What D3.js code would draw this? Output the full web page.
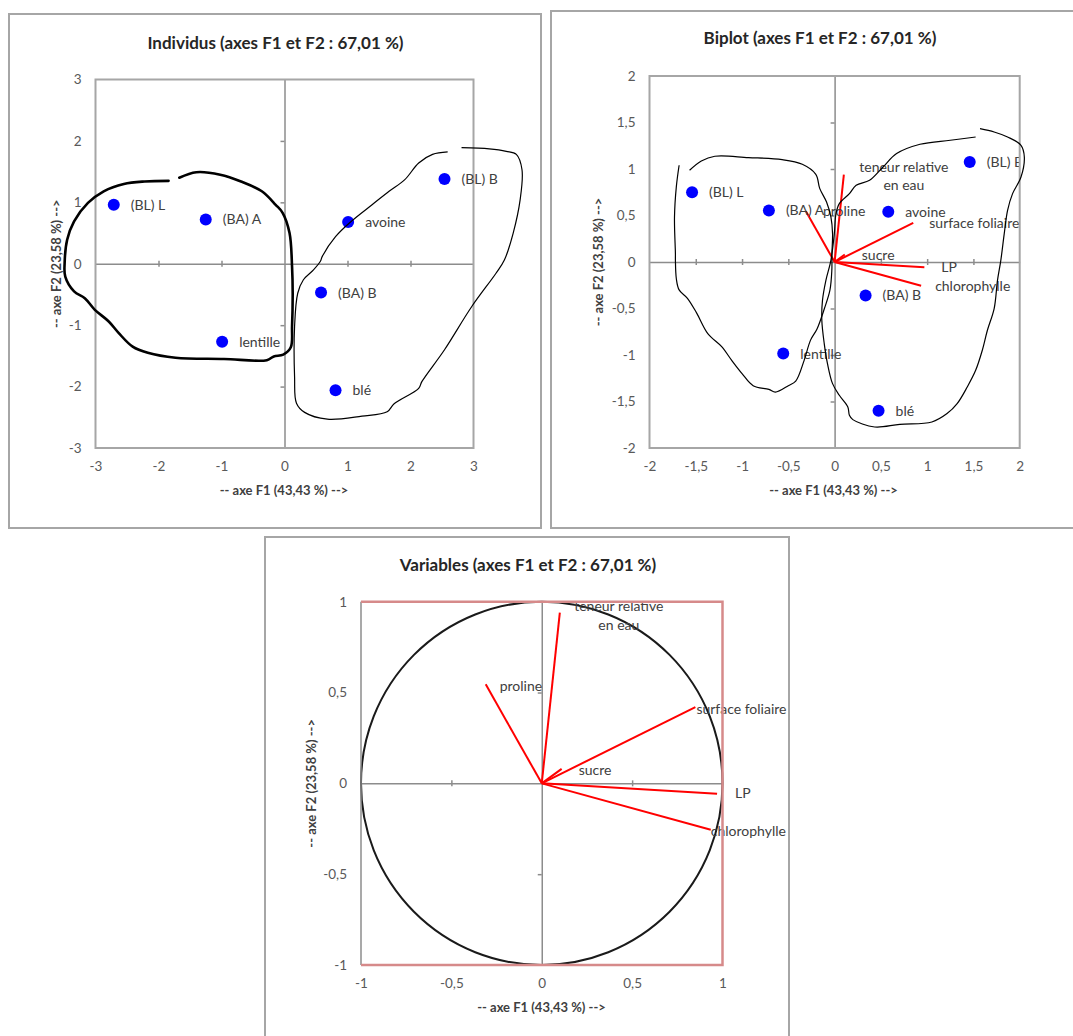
<!DOCTYPE html>
<html>
<head>
<meta charset="utf-8">
<script src="https://cdn.jsdelivr.net/npm/d3@7"></script>
<style>
  html, body { margin: 0; padding: 0; background: #fff; }
  svg { display: block; font-family: Lato, "Open Sans", sans-serif; }
</style>
</head>
<body>
<svg id="chart" width="1073" height="1036"></svg>
<script>
// ---- Observations (factor scores) ----
const individuals = ["(BL) L", "(BA) A", "avoine", "(BL) B", "(BA) B", "lentille", "blé"];
const indF1 = [-2.71, -1.25, 1.01, 2.54, 0.58, -0.99, 0.81];
const indF2 = [0.96, 0.72, 0.68, 1.38, -0.47, -1.27, -2.06];

// Observations as plotted on the biplot
const biF1 = [-1.54, -0.71, 0.58, 1.46, 0.335, -0.555, 0.475];
const biF2 = [0.75, 0.555, 0.54, 1.075, -0.36, -0.985, -1.60];

// ---- Variables (correlations with F1 / F2) ----
const variableLines = [["teneur relative", "en eau"], ["proline"], ["surface foliaire"], ["sucre"], ["LP"], ["chlorophylle"]];
const varF1 = [0.10, -0.31, 0.85, 0.11, 0.97, 0.935];
const varF2 = [0.94, 0.545, 0.42, 0.08, -0.057, -0.255];

// ---- Tick values ----
const ticksInd = [-3, -2, -1, 0, 1, 2, 3];
const ticksBi = [-2, -1.5, -1, -0.5, 0, 0.5, 1, 1.5, 2];
const ticksVar = [-1, -0.5, 0, 0.5, 1];

// ---- Titles ----
const titles = ["Individus (axes F1 et F2 : 67,01 %)", "Biplot (axes F1 et F2 : 67,01 %)", "Variables (axes F1 et F2 : 67,01 %)"];
const xAxisTitle = "-- axe F1 (43,43 %) -->";
const yAxisTitle = "-- axe F2 (23,58 %) -->";

// ---- Hand-drawn group outlines (in F1/F2 units) ----
const indOutlineLeft = [[-1.84,1.35],[-2.22,1.34],[-2.55,1.30],[-2.87,1.18],[-3.12,0.99],[-3.34,0.69],[-3.45,0.39],[-3.49,0.01],[-3.48,-0.21],[-3.34,-0.45],[-3.17,-0.56],[-3.01,-0.75],[-2.79,-0.94],[-2.63,-1.13],[-2.41,-1.35],[-2.17,-1.45],[-1.73,-1.53],[-0.96,-1.55],[-0.28,-1.57],[-0.17,-1.51],[-0.02,-1.48],[0.10,-1.36],[0.12,-1.02],[0.13,-0.48],[0.12,-0.05],[0.08,0.50],[-0.03,0.83],[-0.14,0.96],[-0.36,1.18],[-0.69,1.34],[-1.02,1.45],[-1.40,1.49],[-1.67,1.40]];
const indOutlineRight = [[2.59,1.82],[2.35,1.78],[2.13,1.64],[1.91,1.37],[1.66,1.18],[1.39,0.96],[1.06,0.69],[0.81,0.44],[0.60,0.12],[0.57,0.04],[0.46,-0.10],[0.30,-0.26],[0.21,-0.48],[0.16,-1.02],[0.16,-1.84],[0.19,-2.27],[0.32,-2.42],[0.68,-2.53],[1.23,-2.48],[1.63,-2.41],[1.74,-2.28],[2.13,-2.03],[2.18,-1.92],[2.54,-1.40],[2.97,-0.70],[3.36,-0.15],[3.49,0.06],[3.63,0.50],[3.74,1.04],[3.77,1.53],[3.68,1.78],[3.52,1.83],[3.25,1.87],[2.81,1.89]];
const biOutlineLeft = [[-1.567,0.986],[-1.44,1.086],[-1.294,1.137],[-0.931,1.123],[-0.567,1.101],[-0.349,1.051],[-0.203,0.943],[-0.16,0.789],[-0.087,0.645],[-0.04,0.484],[-0.022,0.305],[-0.029,0.09],[-0.03,-0.09],[-0.05,-0.30],[-0.11,-0.50],[-0.19,-0.72],[-0.26,-0.84],[-0.33,-1.06],[-0.42,-1.28],[-0.50,-1.33],[-0.64,-1.40],[-0.71,-1.37],[-0.88,-1.33],[-1.00,-1.20],[-1.11,-1.06],[-1.22,-0.91],[-1.37,-0.77],[-1.49,-0.55],[-1.59,-0.39],[-1.68,-0.30],[-1.71,-0.18],[-1.72,0.02],[-1.72,0.09],[-1.73,0.48],[-1.71,0.81],[-1.68,1.04]];
const biOutlineRight = [[1.571,1.434],[1.724,1.398],[1.869,1.344],[2.014,1.255],[2.05,1.129],[2.014,0.914],[1.923,0.735],[1.869,0.556],[1.833,0.305],[1.796,0.018],[1.76,-0.197],[1.724,-0.501],[1.651,-0.734],[1.596,-0.949],[1.524,-1.165],[1.433,-1.344],[1.324,-1.523],[1.215,-1.63],[1.051,-1.72],[0.705,-1.745],[0.433,-1.774],[0.197,-1.695],[0.16,-1.648],[0.143,-1.559],[0.051,-1.433],[-0.022,-1.308],[-0.077,-1.092],[-0.112,-0.877],[-0.138,-0.627],[-0.131,-0.412],[-0.094,-0.197],[-0.04,0.018],[-0.003,0.305],[0.015,0.52],[0.051,0.628],[0.16,0.735],[0.233,0.825],[0.378,0.878],[0.524,1.022],[0.67,1.166],[0.923,1.266],[1.25,1.309],[1.524,1.344]];

// ---- Layout ----
const panelLayout = [
  { frame: [9, 14, 532, 514], plot: { l: 95.5, t: 79.5, r: 473.5, b: 448 }, domain: [-3, 3], ticks: ticksInd,
    titlePos: [275.5, 49], xTitlePos: [284, 494.5], yTitleX: 56 },
  { frame: [551, 11, 540, 517], plot: { l: 649.5, t: 76, r: 1019.7, b: 448 }, domain: [-2, 2], ticks: ticksBi,
    titlePos: [820, 44], xTitlePos: [833.5, 494.5], yTitleX: 598 },
  { frame: [265, 537, 524, 520], plot: { l: 361, t: 601.7, r: 722.5, b: 965 }, domain: [-1, 1], ticks: ticksVar,
    titlePos: [528, 570.5], xTitlePos: [541.5, 1012], yTitleX: 311 }
];
// label placement next to each variable vector: [dx, dy, anchor]
const biVarLabelPos = [[60, -7, "middle"], [17, 0, "start"], [16, 0, "start"], [17, 1, "start"], [17, 0, "start"], [14, 0, "start"]];
const varLabelPos = [[59, -6, "middle"], [14, 2, "start"], [1, 2, "start"], [17, 1, "start"], [18, -1, "start"], [0, 1, "start"]];

const locale = d3.formatLocale({ decimal: ",", thousands: " ", grouping: [3], currency: ["", " €"], minus: "-" });
const fmt = locale.format("~g");

const svg = d3.select("#chart");
const textColor = "#404040";
const labelSize = 14;

function drawFrameAndAxes(i) {
  const L = panelLayout[i];
  const g = svg.append("g");
  g.append("rect")
    .attr("x", L.frame[0]).attr("y", L.frame[1])
    .attr("width", L.frame[2]).attr("height", L.frame[3])
    .attr("fill", "#fff").attr("stroke", "#a6a6a6").attr("stroke-width", 2);

  const x = d3.scaleLinear().domain(L.domain).range([L.plot.l, L.plot.r]);
  const y = d3.scaleLinear().domain(L.domain).range([L.plot.b, L.plot.t]);

  // title
  g.append("text").attr("x", L.titlePos[0]).attr("y", L.titlePos[1])
    .attr("text-anchor", "middle").attr("font-size", 17).attr("font-weight", "bold")
    .attr("fill", "#262626").text(titles[i]);

  // tick labels (bottom and left)
  const xa = g.append("g").attr("transform", `translate(0,${L.plot.b})`)
    .call(d3.axisBottom(x).tickValues(L.ticks).tickFormat(fmt).tickSize(0).tickPadding(13));
  const ya = g.append("g").attr("transform", `translate(${L.plot.l},0)`)
    .call(d3.axisLeft(y).tickValues(L.ticks).tickFormat(fmt).tickSize(0).tickPadding(14));
  [xa, ya].forEach(a => {
    a.select(".domain").remove();
    a.selectAll("text").attr("font-size", 13.5).attr("fill", "#595959")
      .attr("font-family", "Lato, 'Open Sans', sans-serif");
  });

  // axis titles
  g.append("text").attr("x", L.xTitlePos[0]).attr("y", L.xTitlePos[1])
    .attr("text-anchor", "middle").attr("font-size", 13).attr("font-weight", "bold")
    .attr("fill", textColor).text(xAxisTitle);
  g.append("text")
    .attr("transform", `translate(${L.yTitleX},${(L.plot.t + L.plot.b) / 2}) rotate(-90)`)
    .attr("text-anchor", "middle").attr("dy", "0.35em").attr("font-size", 13).attr("font-weight", "bold")
    .attr("fill", textColor).text(yAxisTitle);

  // zero lines with small ticks
  const inner = L.ticks.filter(d => d !== 0 && d !== L.domain[0] && d !== L.domain[1]);
  const zx = g.append("g").attr("transform", `translate(0,${y(0)})`)
    .call(d3.axisBottom(x).tickValues(inner).tickSize(6).tickSizeOuter(0).tickFormat(""));
  zx.selectAll(".tick line").attr("y1", -3).attr("y2", 3);
  const zy = g.append("g").attr("transform", `translate(${x(0)},0)`)
    .call(d3.axisLeft(y).tickValues(inner).tickSize(4).tickSizeOuter(0).tickFormat(""));
  [zx, zy].forEach(a => {
    a.selectAll("path, line").attr("stroke", "#8c8c8c").attr("stroke-width", 1.5);
  });

  return { g, x, y, L };
}

function plotFrame(g, L, color) {
  g.append("rect").attr("x", L.plot.l).attr("y", L.plot.t)
    .attr("width", L.plot.r - L.plot.l).attr("height", L.plot.b - L.plot.t)
    .attr("fill", "none").attr("stroke", color).attr("stroke-width", 2);
}

const freehand = d3.line().curve(d3.curveCatmullRom.alpha(0.5));

// ===== Individus =====
{
  const { g, x, y, L } = drawFrameAndAxes(0);
  plotFrame(g, L, "#a6a6a6");
  const pts = g.append("g");
  pts.selectAll("circle").data(individuals).join("circle")
    .attr("cx", (d, i) => x(indF1[i])).attr("cy", (d, i) => y(indF2[i]))
    .attr("r", 6).attr("fill", "#0000ff");
  pts.selectAll("text").data(individuals).join("text")
    .attr("x", (d, i) => x(indF1[i]) + 17).attr("y", (d, i) => y(indF2[i]))
    .attr("dy", "0.35em").attr("font-size", labelSize).attr("fill", textColor).text(d => d);

  const ol = freehand.x(d => x(d[0])).y(d => y(d[1]));
  g.append("path").attr("d", ol(indOutlineLeft)).attr("fill", "none")
    .attr("stroke", "#000").attr("stroke-width", 2.6).attr("stroke-linejoin", "round").attr("stroke-linecap", "round");
  g.append("path").attr("d", ol(indOutlineRight)).attr("fill", "none")
    .attr("stroke", "#000").attr("stroke-width", 1.2).attr("stroke-linejoin", "round");
}

// ===== Biplot =====
{
  const { g, x, y, L } = drawFrameAndAxes(1);
  svg.append("defs").append("clipPath").attr("id", "clip-bi").append("rect")
    .attr("x", L.plot.l).attr("y", L.plot.t)
    .attr("width", L.plot.r - L.plot.l).attr("height", L.plot.b - L.plot.t);
  const inner = g.append("g").attr("clip-path", "url(#clip-bi)");

  inner.selectAll("line.vec").data(variableLines).join("line").attr("class", "vec")
    .attr("x1", x(0)).attr("y1", y(0))
    .attr("x2", (d, i) => x(varF1[i])).attr("y2", (d, i) => y(varF2[i]))
    .attr("stroke", "#ff0000").attr("stroke-width", 2);

  inner.selectAll("circle").data(individuals).join("circle")
    .attr("cx", (d, i) => x(biF1[i])).attr("cy", (d, i) => y(biF2[i]))
    .attr("r", 6).attr("fill", "#0000ff");
  inner.selectAll("text.obs").data(individuals).join("text").attr("class", "obs")
    .attr("x", (d, i) => x(biF1[i]) + 17).attr("y", (d, i) => y(biF2[i]))
    .attr("dy", "0.35em").attr("font-size", labelSize).attr("fill", textColor).text(d => d);

  const vl = inner.selectAll("text.var").data(variableLines).join("text").attr("class", "var")
    .attr("x", (d, i) => x(varF1[i]) + biVarLabelPos[i][0])
    .attr("y", (d, i) => y(varF2[i]) + biVarLabelPos[i][1])
    .attr("text-anchor", (d, i) => biVarLabelPos[i][2])
    .attr("font-size", labelSize).attr("fill", textColor);
  vl.each(function (lines, i) {
    const t = d3.select(this);
    lines.forEach((s, k) => {
      t.append("tspan").attr("x", x(varF1[i]) + biVarLabelPos[i][0])
        .attr("dy", k === 0 ? "0.35em" : 18).text(s);
    });
  });

  plotFrame(g, L, "#a6a6a6");

  const ol = freehand.x(d => x(d[0])).y(d => y(d[1]));
  [biOutlineLeft, biOutlineRight].forEach(o => {
    g.append("path").attr("d", ol(o)).attr("fill", "none")
      .attr("stroke", "#000").attr("stroke-width", 1.2).attr("stroke-linejoin", "round");
  });
}

// ===== Variables (correlation circle) =====
{
  const { g, x, y, L } = drawFrameAndAxes(2);

  g.append("ellipse").attr("cx", x(0)).attr("cy", y(0))
    .attr("rx", x(1) - x(0)).attr("ry", y(0) - y(1))
    .attr("fill", "none").attr("stroke", "#1a1a1a").attr("stroke-width", 2);

  g.selectAll("line.vec").data(variableLines).join("line").attr("class", "vec")
    .attr("x1", x(0)).attr("y1", y(0))
    .attr("x2", (d, i) => x(varF1[i])).attr("y2", (d, i) => y(varF2[i]))
    .attr("stroke", "#ff0000").attr("stroke-width", 2);

  const vl = g.selectAll("text.var").data(variableLines).join("text").attr("class", "var")
    .attr("y", (d, i) => y(varF2[i]) + varLabelPos[i][1])
    .attr("text-anchor", (d, i) => varLabelPos[i][2])
    .attr("font-size", labelSize).attr("fill", textColor);
  vl.each(function (lines, i) {
    const t = d3.select(this);
    lines.forEach((s, k) => {
      t.append("tspan").attr("x", x(varF1[i]) + varLabelPos[i][0])
        .attr("dy", k === 0 ? "0.35em" : 19).text(s);
    });
  });

  // plot area border: grey on the left, light red elsewhere
  g.append("line").attr("x1", L.plot.l).attr("x2", L.plot.l).attr("y1", L.plot.t).attr("y2", L.plot.b)
    .attr("stroke", "#8c8c8c").attr("stroke-width", 1.5);
  g.append("path")
    .attr("d", `M${L.plot.l},${L.plot.t}H${L.plot.r}V${L.plot.b}H${L.plot.l}`)
    .attr("fill", "none").attr("stroke", "#d68a8a").attr("stroke-width", 2.5);
}
</script>
</body>
</html>
